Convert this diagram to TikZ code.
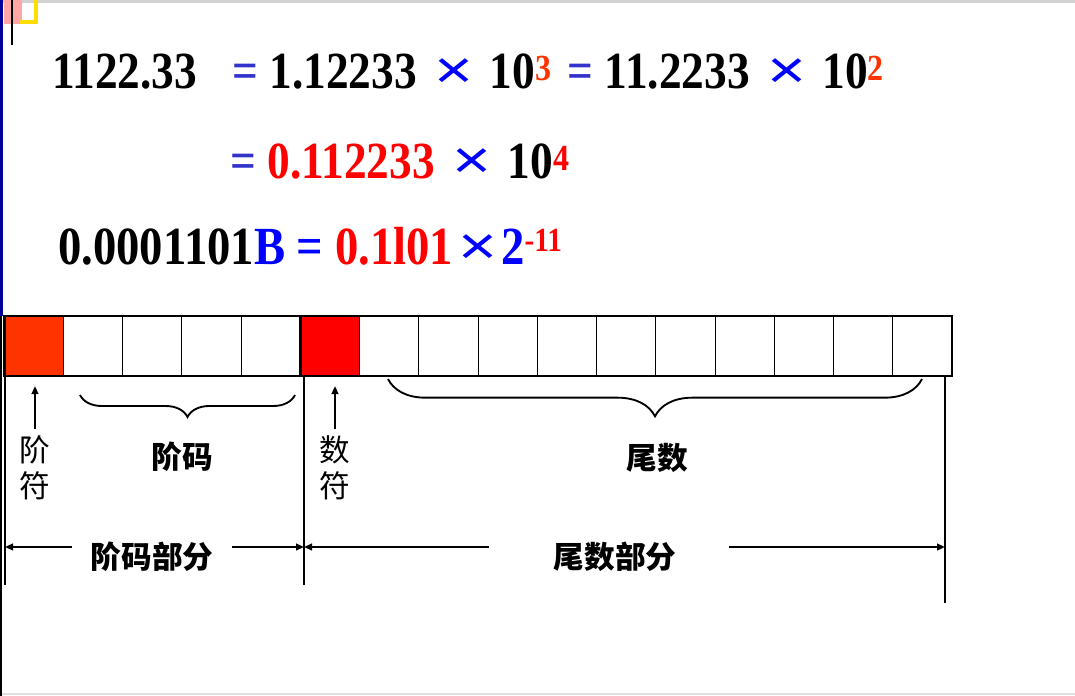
\documentclass[tikz,border=0pt]{standalone}
\usepackage{fontspec}
\setmainfont{Liberation Serif}
\newfontfamily\cjk{Noto Sans CJK SC}
\newfontfamily\xfont{Liberation Sans}
\usetikzlibrary{arrows.meta,decorations.pathreplacing}

\definecolor{eqblue}{RGB}{51,51,204}
\definecolor{xblue}{RGB}{0,0,255}
\definecolor{supred}{RGB}{255,51,0}
\definecolor{manred}{RGB}{255,0,0}
\definecolor{signorange}{RGB}{255,51,0}

\newcommand\tall[1]{\scalebox{1}[1.15]{#1}}
\newcommand\upexp[2][5pt]{\raisebox{#1}{\fontsize{24}{24}\selectfont #2}}
\newcommand\xsign{{\xfont\mdseries\fontsize{50}{50}\selectfont\color{xblue}\scalebox{1}[0.7]{×}}}
\newcommand\mul{\hspace{4.5pt}\xsign\hspace{4pt}}
\newcommand\eqb{{\color{eqblue}=}}

\tikzset{
  eqn/.style={anchor=base west, inner sep=0pt, font=\fontsize{34}{34}\selectfont\bfseries},
  cell/.style={draw, line width=0.6pt, minimum width=44.44pt, minimum height=45pt, inner sep=0pt, outer sep=0pt},
  frame/.style={line width=2pt},
  vline/.style={line width=2pt},
  arr/.style={line width=1.5pt, -{Triangle[length=6pt,width=5pt]}},
  brc/.style={line width=1.4pt, decorate},
  signlab/.style={font=\cjk\fontsize{23}{27}\selectfont, align=center, inner sep=5pt},
  fieldlab/.style={font=\cjk\bfseries\fontsize{23}{23}\selectfont, inner sep=0pt},
  partlab/.style={font=\cjk\bfseries\fontsize{23}{23}\selectfont, inner ysep=0pt, inner xsep=14pt}
}

\begin{document}
\begin{tikzpicture}[x=0.75pt,y=-0.75pt]
\useasboundingbox (0,0) rectangle (1075,696);

% screen edges
\fill[gray!35] (0,0) rectangle (1075,3);
\fill[gray!25] (0,693) rectangle (1075,695);
\fill[blue!60!black] (0,0) rectangle (3,316);
\draw[line width=1pt] (1,316) -- (1,696);
\fill[red!35] (4,0) rectangle (22,24);
\draw[yellow!80!orange, line width=3pt] (20,22) -- (36,22) -- (36,0);
\draw[line width=2.2pt] (12,0) -- (12,45);

% equations
\node[eqn] (e1a) at (52,88) {\tall{1122.33}};
\node[eqn] (e1b) at (232,88) {\tall{\eqb{} 1.12233 \mul{} 10\upexp{\color{supred}3}\hspace{4pt} \eqb{} 11.2233 \mul{} 10\upexp{\color{supred}2}}};
\node[eqn] (e2) at (230,178) {\tall{\eqb{} {\color{manred}0.112233} \mul{} 10\upexp{\color{manred}4}}};
\node[eqn, font=\fontsize{35}{35}\selectfont\bfseries] (e3) at (58,264) {\tall{0.0001101{\color{xblue}B} {\color{xblue}=} {\color{manred}0.1l01}\hspace{4pt}\xsign\hspace{3pt}{\color{xblue}2}\upexp[8pt]{\fontsize{22}{22}\selectfont\color{manred}-11}}};

% register
\foreach \i in {0,...,15}{
  \ifnum\i=0 \def\cfill{signorange}\else\ifnum\i=5 \def\cfill{manred}\else\def\cfill{white}\fi\fi
  \node[cell, fill=\cfill] (c\i) at ({33.6+59.25*\i},346) {};
}
\draw[frame] (c0.north west) rectangle (c15.south east);
\draw[frame] (c5.north west) -- (c5.south west);

\coordinate (vl) at (5,376);
\coordinate (vm) at (304,376);
\coordinate (vr) at (945,376);
\draw[vline] (vl |- c0.north) -- ++(0,269);
\draw[vline] (vm) -- ++(0,209);
\draw[vline] (vr) -- ++(0,227);

% signs
\node[signlab] (jfsign) at (35,468) {阶\\符};
\node[signlab] (sfsign) at (335,468) {数\\符};
\draw[arr, shorten >=7.5pt] (jfsign.north) -- (jfsign.north |- c0.south);
\draw[arr, shorten >=7.5pt] (sfsign.north) -- (sfsign.north |- c5.south);

% braces
\draw[brc, decoration={brace, amplitude=16.5pt}] (295,395) -- (80,395);
\draw[brc, decoration={brace, amplitude=28pt}] (922,379) -- (388,379);
\node[fieldlab] (jmlab) at (182,457) {阶码};
\node[fieldlab] (wslab) at (657,458) {尾数};

% parts
\node[partlab] (jmpart) at (152,557) {阶码部分};
\node[partlab] (wspart) at (615,557) {尾数部分};
\coordinate (jl) at ([yshift=7.5pt]jmpart.west);
\coordinate (jr) at ([yshift=7.5pt]jmpart.east);
\coordinate (wl) at ([xshift=-34pt,yshift=7.5pt]wspart.west);
\coordinate (wr) at ([xshift=25pt,yshift=7.5pt]wspart.east);
\draw[arr] (jl) -- (jl -| vl);
\draw[arr] (jr) -- (jr -| vm);
\draw[arr] (wl) -- (wl -| vm);
\draw[arr] (wr) -- (wr -| vr);
\end{tikzpicture}
\end{document}
